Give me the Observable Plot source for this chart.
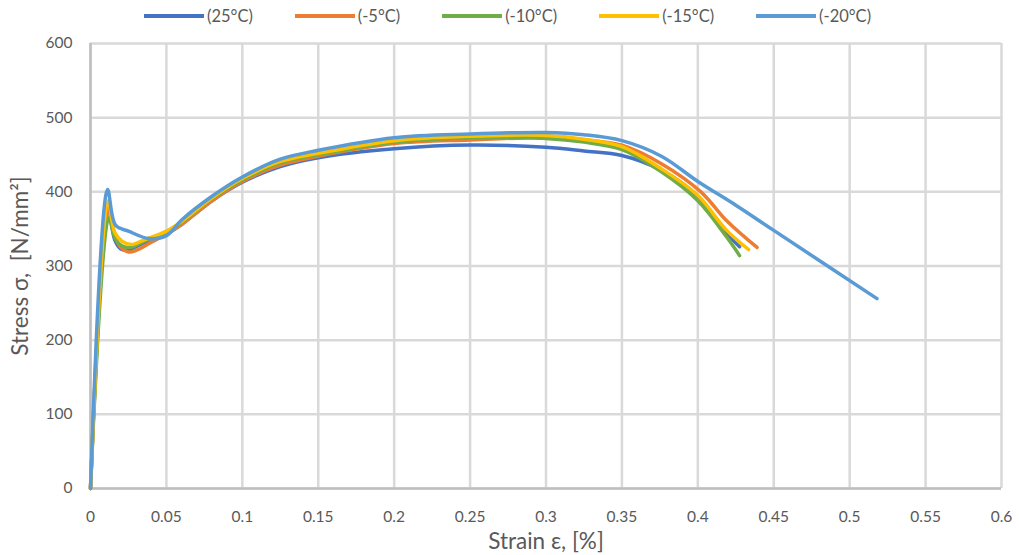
<!DOCTYPE html>
<html>
<head>
<meta charset="utf-8">
<script src="https://cdn.jsdelivr.net/npm/d3@7"></script>
<script src="https://cdn.jsdelivr.net/npm/@observablehq/plot@0.6"></script>
<style>
  body { margin: 0; background: #fff; font-family: Lato, "Open Sans", sans-serif; }
  #legend { display: flex; align-items: center; height: 32px; padding-left: 144px; gap: 42px; color: #595959; font-size: 16.5px; }
  .item { display: flex; align-items: center; }
  .sw { width: 60px; height: 3.5px; margin-right: 3px; }
  svg { overflow: visible; }
</style>
</head>
<body>
<div id="legend"></div>
<div id="chart"></div>
<script>
const seriesNames = ["(25°C)", "(-5°C)", "(-10°C)", "(-15°C)", "(-20°C)"];
const colors = ["#4472C4", "#ED7D31", "#70AD47", "#FFC000", "#5B9BD5"];

const x25 = [0, 0.0115, 0.016, 0.02, 0.025, 0.035, 0.05, 0.06, 0.08, 0.1, 0.125, 0.15, 0.2, 0.25, 0.3, 0.325, 0.35, 0.376, 0.4, 0.419, 0.4275];
const y25 = [0, 380, 335, 323, 322, 331, 343, 356, 388, 413, 434, 446, 458, 463, 460, 455, 449, 429, 394, 344, 326];

const x5 = [0, 0.0115, 0.016, 0.02, 0.025, 0.03, 0.04, 0.05, 0.06, 0.08, 0.1, 0.125, 0.15, 0.2, 0.25, 0.3, 0.325, 0.35, 0.376, 0.402, 0.419, 0.439];
const y5 = [0, 376, 340, 325, 319, 321, 332, 343, 356, 388, 414, 436, 448, 465, 470, 473, 470, 463, 438, 400, 361, 325];

const x10 = [0, 0.012, 0.016, 0.02, 0.026, 0.035, 0.05, 0.06, 0.08, 0.1, 0.125, 0.15, 0.2, 0.25, 0.3, 0.325, 0.35, 0.376, 0.4, 0.419, 0.4275];
const y10 = [0, 365, 338, 328, 325, 333, 346, 359, 391, 416, 439, 450, 467, 473, 472, 467, 457, 427, 388, 339, 314];

const x15 = [0, 0.0115, 0.016, 0.021, 0.027, 0.035, 0.05, 0.06, 0.08, 0.1, 0.125, 0.15, 0.2, 0.25, 0.3, 0.325, 0.35, 0.376, 0.4, 0.419, 0.4335];
const y15 = [0, 388, 345, 333, 329, 335, 347, 360, 392, 418, 441, 452, 469, 475, 476, 471, 461, 431, 395, 348, 322];

const x20 = [0, 0.0112, 0.0165, 0.025, 0.0384, 0.05, 0.06, 0.08, 0.1, 0.125, 0.15, 0.2, 0.25, 0.3, 0.325, 0.35, 0.376, 0.4, 0.425, 0.45, 0.518];
const y20 = [0, 403, 355, 347, 337, 341, 362, 394, 420, 444, 456, 473, 478, 480, 477, 469, 448, 414, 382, 348, 256];

const xTicks = [0, 0.05, 0.1, 0.15, 0.2, 0.25, 0.3, 0.35, 0.4, 0.45, 0.5, 0.55, 0.6];
const yTicks = [0, 100, 200, 300, 400, 500, 600];

const allX = [x25, x5, x10, x15, x20];
const allY = [y25, y5, y10, y15, y20];
const data = [];
allX.forEach((xs, i) => xs.forEach((x, j) => data.push({series: seriesNames[i], x, y: allY[i][j]})));

// legend
const leg = document.getElementById("legend");
seriesNames.forEach((n, i) => {
  const it = document.createElement("div");
  it.className = "item";
  it.innerHTML = `<div class="sw" style="background:${colors[i]}"></div><span>${n}</span>`;
  leg.appendChild(it);
});

const chart = Plot.plot({
  width: 1019,
  height: 523,
  marginLeft: 90,
  marginRight: 18,
  marginTop: 11,
  marginBottom: 67,
  style: {fontFamily: "Lato, 'Open Sans', sans-serif", fontSize: "15px", color: "#595959", background: "#fff", overflow: "visible"},
  x: {domain: [0, 0.6]},
  y: {domain: [0, 600]},
  color: {domain: seriesNames, range: colors},
  marks: [
    Plot.gridX(xTicks, {stroke: "#d9d9d9", strokeOpacity: 1, strokeWidth: 2.5}),
    Plot.gridY(yTicks, {stroke: "#d9d9d9", strokeOpacity: 1, strokeWidth: 2.5}),
    Plot.ruleX([0], {stroke: "#bfbfbf", strokeWidth: 2.5}),
    Plot.ruleY([0], {stroke: "#bfbfbf", strokeWidth: 2.5}),
    Plot.axisX({ticks: xTicks, tickFormat: d => String(d), tickSize: 0, tickPadding: 22, fontSize: 15.5,
      label: "Strain ε, [%]", labelAnchor: "center", labelArrow: "none", labelOffset: 60}),
    Plot.axisY({ticks: yTicks, tickSize: 0, tickPadding: 18, fontSize: 15.5,
      label: "Stress σ,  [N/mm²]", labelAnchor: "center", labelArrow: "none", labelOffset: 78}),
    Plot.line(data, {x: "x", y: "y", z: "series", stroke: "series", strokeWidth: 3.5, curve: "catmull-rom"})
  ]
});
document.getElementById("chart").appendChild(chart);
// enlarge axis titles
chart.querySelectorAll("g[aria-label='x-axis label'] text, g[aria-label='y-axis label'] text").forEach(t => t.setAttribute("font-size", "22.5"));
</script>
</body>
</html>
